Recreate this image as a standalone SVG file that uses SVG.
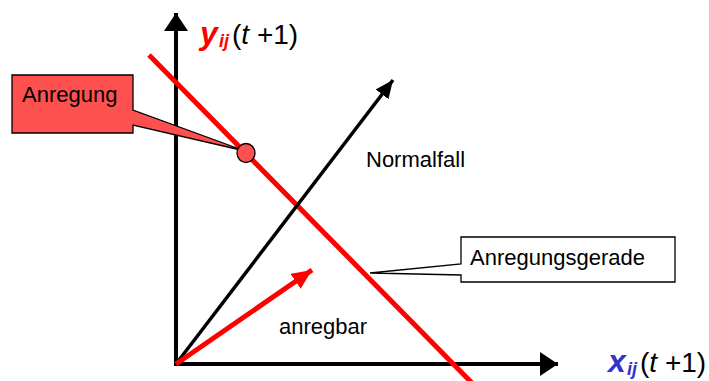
<svg xmlns="http://www.w3.org/2000/svg" width="709" height="381" viewBox="0 0 709 381">
<style>
text{font-family:"Liberation Sans",Arial,sans-serif;}
.lbl{font-size:22px;fill:#000;}
.ax{font-size:28px;fill:#000;}
.co{stroke:#000;stroke-width:1.3;}
.v{font-weight:bold;font-style:italic;font-size:32px;}
.s{font-weight:bold;font-style:italic;font-size:18px;}
</style>
<defs>
<marker id="axh" markerUnits="userSpaceOnUse" markerWidth="20" markerHeight="26" refX="18" refY="12" orient="auto"><path d="M0,0 L18,12 L0,24 z" fill="#000"/></marker>
<marker id="ab" markerUnits="userSpaceOnUse" markerWidth="20" markerHeight="18" refX="18" refY="8" orient="auto"><path d="M0,0 L18,8 L0,16 z" fill="#000"/></marker>
<marker id="ar" markerUnits="userSpaceOnUse" markerWidth="22" markerHeight="20" refX="20" refY="9" orient="auto"><path d="M0,0 L20,9 L0,18 z" fill="#FF0000"/></marker>
</defs>
<rect width="709" height="381" fill="#fff"/>
<g id="connectors">
<line x1="176" y1="366" x2="176" y2="13" stroke="#000" stroke-width="4" marker-end="url(#axh)"/>
<line x1="174" y1="364" x2="558" y2="364" stroke="#000" stroke-width="4" marker-end="url(#axh)"/>
<line x1="149" y1="55" x2="472" y2="383" stroke="#FF0000" stroke-width="5"/>
<line x1="176" y1="364" x2="393" y2="80" stroke="#000" stroke-width="3.5" marker-end="url(#ab)"/>
<line x1="176" y1="364" x2="312" y2="270" stroke="#FF0000" stroke-width="5" marker-end="url(#ar)"/>
</g>
<g id="anregung">
<path d="M12,75 L133,75 L133,110 L245,151 L133,125 L133,133 L12,133 z" fill="#FF5050" class="co"/>
<ellipse cx="246" cy="153" rx="9" ry="9.5" fill="#FF5050" class="co"/>
<text x="22" y="102" class="lbl">Anregung</text>
</g>
<g id="anregungsgerade">
<path d="M461,237 L675,237 L675,282 L461,282 L461,275 L370,273 L461,264 z" fill="#fff" class="co"/>
<text x="470" y="265" class="lbl">Anregungsgerade</text>
</g>
<g id="normalfall"><text x="366" y="167" class="lbl">Normalfall</text></g>
<g id="anregbar"><text x="279" y="334" class="lbl">anregbar</text></g>
<g id="y-label"><text y="44" class="ax"><tspan x="200" class="v" fill="#FF0000">y</tspan><tspan x="219" dy="3" class="s" fill="#FF0000">ij</tspan><tspan x="232" dy="-3">(</tspan><tspan font-style="italic">t</tspan><tspan> +1)</tspan></text></g>
<g id="x-label"><text y="372" class="ax"><tspan x="608" class="v" fill="#3333CC">x</tspan><tspan x="627" dy="3" class="s" fill="#3333CC">ij</tspan><tspan x="640" dy="-3">(</tspan><tspan font-style="italic">t</tspan><tspan> +1)</tspan></text></g>
</svg>
